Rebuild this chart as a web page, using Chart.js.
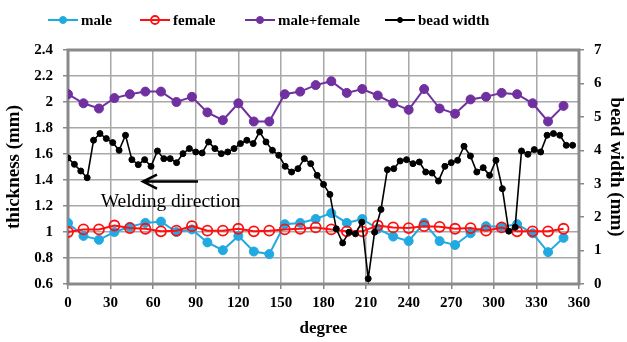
<!DOCTYPE html>
<html>
<head>
<meta charset="utf-8">
<script src="https://cdn.jsdelivr.net/npm/chart.js@4.4.0/dist/chart.umd.min.js"></script>
<style>
  html, body { margin: 0; padding: 0; background: #fff; }
  #wrap { width: 627px; height: 342px; }
</style>
</head>
<body>
<div id="wrap"><canvas id="chart"></canvas></div>
<script>
// thickness measured at 33 positions round the pipe (degree)
const degrees = [0, 10.9, 21.8, 32.7, 43.6, 54.5, 65.5, 76.4, 87.3, 98.2, 109.1, 120, 130.9,
  141.8, 152.7, 163.6, 174.5, 185.5, 196.4, 207.3, 218.2, 229.1, 240, 250.9, 261.8, 272.7,
  283.6, 294.5, 305.5, 316.4, 327.3, 338.2, 349.1];
const male = [1.07, 0.97, 0.94, 1.00, 1.04, 1.07, 1.08, 1.00, 1.02, 0.92, 0.86, 0.97, 0.85,
  0.83, 1.06, 1.07, 1.10, 1.145, 1.07, 1.10, 1.025, 0.965, 0.93, 1.07, 0.93, 0.90,
  0.99, 1.045, 1.04, 1.06, 0.99, 0.845, 0.955];
const female = [1.00, 1.02, 1.02, 1.05, 1.03, 1.025, 1.005, 1.01, 1.045, 1.01, 1.01, 1.025, 1.005,
  1.01, 1.02, 1.025, 1.035, 1.02, 1.005, 1.005, 1.05, 1.035, 1.03, 1.045, 1.04, 1.025,
  1.03, 1.01, 1.035, 1.005, 1.005, 1.005, 1.025];
const maleFemale = [2.06, 1.99, 1.95, 2.03, 2.06, 2.08, 2.08, 2.00, 2.04, 1.92, 1.86, 1.99, 1.85,
  1.85, 2.06, 2.08, 2.13, 2.16, 2.07, 2.10, 2.05, 1.99, 1.94, 2.10, 1.95, 1.91,
  2.02, 2.04, 2.07, 2.06, 1.99, 1.85, 1.97];

// bead width every 4.5 degree
const beadDeg = [0, 4.5, 9, 13.5, 18, 22.5, 27, 31.5, 36, 40.5, 45, 49.5, 54, 58.5, 63, 67.5,
  72, 76.5, 81, 85.5, 90, 94.5, 99, 103.5, 108, 112.5, 117, 121.5, 126, 130.5, 135, 139.5,
  144, 148.5, 153, 157.5, 162, 166.5, 171, 175.5, 180, 184.5, 189, 193.5, 198, 202.5, 207, 211.5,
  216, 220.5, 225, 229.5, 234, 238.5, 243, 247.5, 252, 256.5, 261, 265.5, 270, 274.5, 279, 283.5,
  288, 292.5, 297, 301.5, 306, 310.5, 315, 319.5, 324, 328.5, 333, 337.5, 342, 346.5, 351, 355.5];
const beadWidth = [3.77, 3.58, 3.38, 3.18, 4.30, 4.50, 4.35, 4.23, 4.00, 4.45, 3.72, 3.57, 3.72, 3.52, 3.98, 3.75,
  3.75, 3.63, 3.90, 4.05, 3.95, 3.92, 4.25, 4.05, 3.90, 3.95, 4.05, 4.20, 4.30, 4.20, 4.55, 4.25,
  4.00, 3.85, 3.52, 3.35, 3.45, 3.75, 3.60, 3.25, 2.98, 2.68, 1.65, 1.23, 1.55, 1.50, 1.85, 0.16,
  1.55, 2.23, 3.42, 3.45, 3.68, 3.72, 3.60, 3.65, 3.35, 3.32, 3.08, 3.52, 3.63, 3.70, 4.12, 3.83,
  3.35, 3.48, 3.25, 3.70, 2.85, 1.58, 1.70, 3.98, 3.88, 4.02, 3.95, 4.45, 4.50, 4.45, 4.15, 4.15];

const xTicks = [0, 30, 60, 90, 120, 150, 180, 210, 240, 270, 300, 330, 360];
const yTicks = [0.6, 0.8, 1, 1.2, 1.4, 1.6, 1.8, 2, 2.2, 2.4];
const y1Ticks = [0, 1, 2, 3, 4, 5, 6, 7];

const serif = "'Liberation Serif', 'Times New Roman', serif";
const gridColor = '#a8a8a8';

function pts(xs, ys) {
  return xs.map((x, i) => ({ x: x, y: ys[i] }));
}

// 枠線
const framePlugin = {
  id: 'frame',
  beforeDatasetsDraw(chart) {
    const a = chart.chartArea, ctx = chart.ctx;
    ctx.save();
    ctx.strokeStyle = '#8a8a8a';
    ctx.lineWidth = 3;
    ctx.strokeRect(a.left, a.top, a.right - a.left, a.bottom - a.top);
    ctx.restore();
  }
};

// 凡例（線＋マーカー）
const legendX = [48, 140, 245, 385];
const legendY = 20;
const legendPlugin = {
  id: 'lineLegend',
  afterDraw(chart) {
    const ctx = chart.ctx;
    ctx.save();
    chart.data.datasets.forEach((ds, i) => {
      const x = legendX[i];
      ctx.strokeStyle = ds.borderColor;
      ctx.lineWidth = 2;
      ctx.beginPath();
      ctx.moveTo(x, legendY);
      ctx.lineTo(x + 30, legendY);
      ctx.stroke();
      ctx.beginPath();
      ctx.arc(x + 15, legendY, ds.legendRadius, 0, Math.PI * 2);
      ctx.fillStyle = ds.pointBackgroundColor;
      ctx.fill();
      ctx.lineWidth = ds.pointBorderWidth;
      ctx.strokeStyle = ds.pointBorderColor;
      ctx.stroke();
      ctx.fillStyle = '#000';
      ctx.font = 'bold 15px ' + serif;
      ctx.textAlign = 'left';
      ctx.textBaseline = 'middle';
      ctx.fillText(ds.label, x + 33, legendY + 1);
    });
    ctx.restore();
  }
};

// 溶接方向の矢印
const arrowFrom = { x: 91.6, y: 1.388 };
const arrowTo = { x: 52.8, y: 1.388 };
const noteAt = { x: 23, y: 1.229 };
const arrowPlugin = {
  id: 'weldArrow',
  afterDatasetsDraw(chart) {
    const xs = chart.scales.x, ys = chart.scales.y, ctx = chart.ctx;
    const x0 = xs.getPixelForValue(arrowFrom.x), y0 = ys.getPixelForValue(arrowFrom.y);
    const x1 = xs.getPixelForValue(arrowTo.x), y1 = ys.getPixelForValue(arrowTo.y);
    ctx.save();
    ctx.strokeStyle = '#000';
    ctx.lineWidth = 2.5;
    ctx.beginPath();
    ctx.moveTo(x0, y0);
    ctx.lineTo(x1, y1);
    ctx.moveTo(x1 + 14, y1 - 7);
    ctx.lineTo(x1, y1);
    ctx.lineTo(x1 + 14, y1 + 7);
    ctx.stroke();
    ctx.fillStyle = '#000';
    ctx.font = '19.5px ' + serif;
    ctx.textAlign = 'left';
    ctx.textBaseline = 'middle';
    ctx.fillText('Welding direction', xs.getPixelForValue(noteAt.x), ys.getPixelForValue(noteAt.y));
    ctx.restore();
  }
};

const ctx = document.getElementById('chart').getContext('2d');
new Chart(ctx, {
  type: 'line',
  data: {
    datasets: [
      {
        label: 'male', data: pts(degrees, male), yAxisID: 'y', order: 2,
        borderColor: '#21a9e1', borderWidth: 2,
        pointRadius: 4.5, pointBackgroundColor: '#21a9e1', pointBorderColor: '#21a9e1',
        pointBorderWidth: 1, legendRadius: 3.5
      },
      {
        label: 'female', data: pts(degrees, female), yAxisID: 'y', order: 1,
        borderColor: '#ff1010', borderWidth: 2,
        pointRadius: 5, pointBackgroundColor: 'rgba(255,255,255,0)', pointBorderColor: '#ff1010',
        pointBorderWidth: 1.8, legendRadius: 4
      },
      {
        label: 'male+female', data: pts(degrees, maleFemale), yAxisID: 'y', order: 3,
        borderColor: '#7030a0', borderWidth: 2,
        pointRadius: 4.5, pointBackgroundColor: '#7030a0', pointBorderColor: '#7030a0',
        pointBorderWidth: 1, legendRadius: 3.5
      },
      {
        label: 'bead width', data: pts(beadDeg, beadWidth), yAxisID: 'y1', order: 0,
        borderColor: '#000', borderWidth: 1.6,
        pointRadius: 3, pointBackgroundColor: '#000', pointBorderColor: '#000',
        pointBorderWidth: 1, legendRadius: 2.5
      }
    ]
  },
  options: {
    responsive: true,
    maintainAspectRatio: false,
    animation: false,
    devicePixelRatio: 1,
    layout: { padding: { top: 50, right: 0, bottom: 0, left: 0 } },
    elements: { line: { tension: 0 } },
    plugins: { legend: { display: false }, tooltip: { enabled: false } },
    scales: {
      x: {
        type: 'linear', min: 0, max: 360,
        afterBuildTicks: s => { s.ticks = xTicks.map(v => ({ value: v })); },
        afterFit: s => { s.height = 58; },
        grid: { color: gridColor, lineWidth: 1.5, tickLength: 5, tickColor: '#888' },
        border: { display: false },
        ticks: { color: '#000', font: { family: serif, size: 15, weight: 'bold' }, padding: 5, maxRotation: 0, autoSkip: false },
        title: { display: true, text: 'degree', color: '#000', font: { family: serif, size: 17, weight: 'bold' }, padding: { top: 0, bottom: 3 } }
      },
      y: {
        position: 'left', min: 0.6, max: 2.4,
        afterBuildTicks: s => { s.ticks = yTicks.map(v => ({ value: v })); },
        afterFit: s => { s.width = 68; },
        grid: { color: gridColor, lineWidth: 1.5, tickLength: 5, tickColor: '#888' },
        border: { display: false },
        ticks: { color: '#000', font: { family: serif, size: 15, weight: 'bold' }, padding: 10, callback: v => String(v) },
        title: { display: true, text: 'thickness (mm)', color: '#000', font: { family: serif, size: 19, weight: 'bold' }, padding: { top: 3, bottom: 0 } }
      },
      y1: {
        position: 'right', min: 0, max: 7,
        afterBuildTicks: s => { s.ticks = y1Ticks.map(v => ({ value: v })); },
        afterFit: s => { s.width = 48; },
        grid: { drawOnChartArea: false, tickLength: 5, tickColor: '#888', lineWidth: 1.5 },
        border: { display: false },
        ticks: { color: '#000', font: { family: serif, size: 15, weight: 'bold' }, padding: 10 },
        title: { display: true, text: 'bead width (mm)', color: '#000', font: { family: serif, size: 19, weight: 'bold' }, padding: { top: 0, bottom: 0 } }
      }
    }
  },
  plugins: [framePlugin, arrowPlugin, legendPlugin]
});
</script>
</body>
</html>
